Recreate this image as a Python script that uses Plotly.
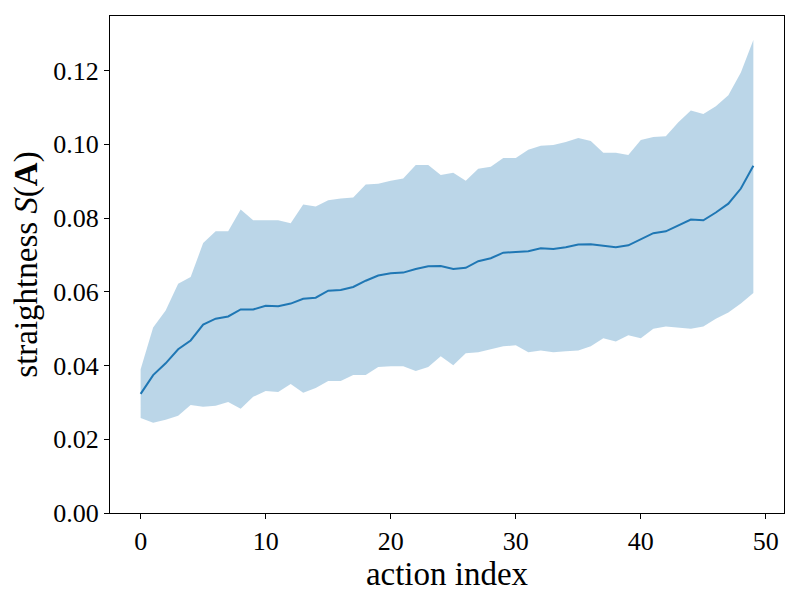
import plotly.graph_objects as go

# action index 0..49
action_idx = list(range(50))

# mean straightness per action
mean_s = [0.0323, 0.0374, 0.0406, 0.0444, 0.0468, 0.0511, 0.0527, 0.0533, 0.0552, 0.0552,
          0.0562, 0.0561, 0.0568, 0.0581, 0.0584, 0.0603, 0.0605, 0.0613, 0.0630, 0.0644,
          0.0650, 0.0652, 0.0662, 0.0669, 0.0670, 0.0662, 0.0665, 0.0683, 0.0691, 0.0706,
          0.0708, 0.0710, 0.0718, 0.0716, 0.0721, 0.0728, 0.0729, 0.0724, 0.0721, 0.0726,
          0.0743, 0.0759, 0.0764, 0.0780, 0.0796, 0.0794, 0.0815, 0.0839, 0.0880, 0.0942]

# upper edge of the band
upper_s = [0.0390, 0.0503, 0.0549, 0.0622, 0.0640, 0.0732, 0.0764, 0.0764, 0.0823, 0.0794,
           0.0794, 0.0794, 0.0786, 0.0837, 0.0831, 0.0848, 0.0853, 0.0856, 0.0891, 0.0893,
           0.0901, 0.0907, 0.0944, 0.0944, 0.0917, 0.0923, 0.0901, 0.0934, 0.0939, 0.0963,
           0.0963, 0.0985, 0.0996, 0.0998, 0.1006, 0.1017, 0.1009, 0.0977, 0.0977, 0.0971,
           0.1012, 0.1020, 0.1022, 0.1060, 0.1092, 0.1082, 0.1103, 0.1133, 0.1195, 0.1283]

# lower edge of the band
lower_s = [0.0258, 0.0245, 0.0253, 0.0264, 0.0293, 0.0288, 0.0291, 0.0301, 0.0283, 0.0315,
           0.0331, 0.0328, 0.0350, 0.0326, 0.0339, 0.0358, 0.0358, 0.0374, 0.0374, 0.0396,
           0.0398, 0.0398, 0.0385, 0.0396, 0.0425, 0.0401, 0.0433, 0.0436, 0.0444, 0.0452,
           0.0455, 0.0436, 0.0441, 0.0436, 0.0439, 0.0441, 0.0452, 0.0474, 0.0465, 0.0482,
           0.0474, 0.0500, 0.0506, 0.0503, 0.0500, 0.0506, 0.0527, 0.0544, 0.0568, 0.0597]

y_ticks = [0.00, 0.02, 0.04, 0.06, 0.08, 0.10, 0.12]
x_ticks = [0, 10, 20, 30, 40, 50]

blue = "#1f77b4"
font_name = "Liberation Serif"

fig = go.Figure()
# band
fig.add_trace(go.Scatter(x=action_idx, y=lower_s, mode="lines", line=dict(width=0),
                         showlegend=False, hoverinfo="skip"))
fig.add_trace(go.Scatter(x=action_idx, y=upper_s, mode="lines", line=dict(width=0),
                         fill="tonexty", fillcolor="rgba(31,119,180,0.3)",
                         showlegend=False, hoverinfo="skip"))
# mean line
fig.add_trace(go.Scatter(x=action_idx, y=mean_s, mode="lines",
                         line=dict(color=blue, width=2), showlegend=False))

axis_common = dict(showgrid=False, zeroline=False, showline=True, linecolor="black",
                   linewidth=1, mirror=True, ticks="outside", ticklen=5, tickwidth=1,
                   tickcolor="black", tickfont=dict(family=font_name, size=26, color="black"))

# page body has an 8px margin, so the figure is a bit smaller than the window
fig.update_layout(
    width=784, height=584,
    margin=dict(l=102, r=7, t=7, b=75),
    paper_bgcolor="white", plot_bgcolor="white",
    font=dict(family=font_name, color="black"),
    xaxis=dict(range=[-2.45, 51.45], tickvals=x_ticks,
               title=dict(text="action index", font=dict(size=33), standoff=6),
               **axis_common),
    yaxis=dict(range=[0, 0.1348], tickvals=y_ticks, tickformat=".2f",
               title=dict(text="straightness <i>S</i>(<b>A</b>)", font=dict(size=33), standoff=8),
               **axis_common),
)

fig.write_html("out.html")
